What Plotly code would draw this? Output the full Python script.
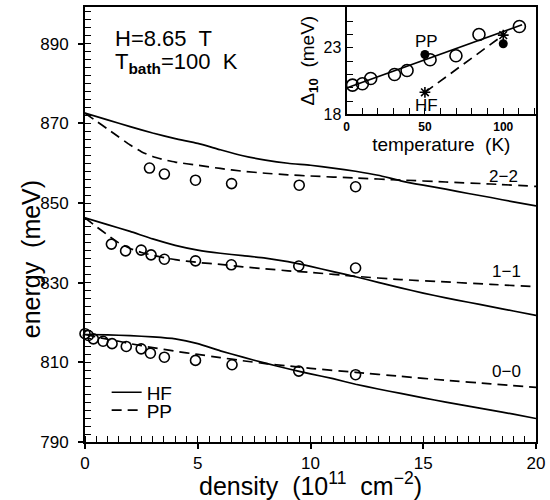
import plotly.graph_objects as go

# ---------------- main panel data ----------------
d_hf = [0, 1, 2, 3, 4, 5, 6, 7, 8, 9, 10, 11, 12, 13, 14, 15, 16, 17, 18, 19, 20]
hf_22 = [872.6, 870.9, 869.2, 867.6, 866.2, 865.0, 863.4, 861.9, 860.8, 860.0, 859.5,
         858.8, 858.0, 857.0, 855.6, 854.5, 853.5, 852.4, 851.4, 850.3, 849.3]
hf_11 = [846.3, 844.6, 842.9, 841.0, 839.4, 838.2, 837.4, 836.8, 836.2, 835.3, 834.1,
         832.8, 831.5, 830.1, 828.7, 827.4, 826.2, 825.1, 824.0, 822.9, 821.8]
hf_00 = [817.0, 816.9, 816.7, 816.4, 815.9, 814.7, 812.9, 811.3, 809.8, 808.4, 807.1,
         805.9, 804.5, 803.3, 802.2, 801.1, 800.0, 799.0, 798.0, 797.0, 795.9]

d_pp22 = [0, 0.5, 1, 1.5, 2, 2.5, 3, 3.5, 4, 5, 6, 7, 8, 9, 10, 12, 14, 16, 18, 20]
pp_22 = [872.6, 870.6, 868.6, 866.6, 864.6, 862.9, 861.7, 860.9, 860.3, 859.5, 858.7,
         858.0, 857.5, 857.1, 856.8, 856.3, 855.8, 855.3, 854.8, 854.2]
d_pp11 = [0, 0.5, 1, 1.5, 2, 2.5, 3, 4, 5, 6, 7, 8, 9, 10, 12, 14, 16, 18, 20]
pp_11 = [846.3, 844.1, 842.0, 840.0, 838.6, 837.6, 836.9, 835.8, 835.1, 834.6, 834.0,
         833.5, 833.0, 832.6, 831.6, 830.8, 830.2, 829.6, 829.0]
d_pp00 = [0, 0.5, 1, 1.5, 2, 3, 4, 5, 6, 7, 8, 9, 10, 12, 14, 16, 18, 20]
pp_00 = [817.0, 816.4, 815.8, 815.3, 814.7, 813.7, 812.8, 812.0, 811.2, 810.4, 809.7,
         809.1, 808.5, 807.5, 806.5, 805.5, 804.6, 803.7]

d_exp22 = [2.86, 3.52, 4.9, 6.5, 9.5, 12.0]
e_exp22 = [858.8, 857.3, 855.75, 854.9, 854.5, 854.1]
d_exp11 = [1.17, 1.8, 2.49, 2.93, 3.52, 4.9, 6.49, 9.48, 12.0]
e_exp11 = [839.7, 838.0, 838.2, 837.0, 835.9, 835.5, 834.5, 834.2, 833.7]
d_exp00 = [0.0, 0.15, 0.37, 0.8, 1.2, 1.83, 2.49, 2.9, 3.52, 4.9, 6.52, 9.48, 12.0]
e_exp00 = [817.2, 816.75, 815.9, 815.3, 814.7, 814.0, 813.4, 812.3, 811.3, 810.5,
           809.4, 807.8, 806.9]

level_labels = ["2\u22122", "1\u22121", "0\u22120"]
level_label_x = [18.55, 18.7, 18.7]
level_label_y = [856.6, 832.8, 807.6]

# ---------------- inset data ----------------
t_exp = [3.8, 10.1, 15.4, 30.6, 38.6, 53.3, 69.8, 84.5, 110.3]
delta_exp = [20.2, 20.3, 20.7, 21.0, 21.3, 22.1, 22.4, 24.0, 24.6]
t_fit = [0, 112]
delta_fit = [19.98, 24.73]
t_hf = [50, 100]
delta_hf = [19.66, 23.95]
t_pp = [50, 100]
delta_pp = [22.5, 23.3]

FONT = "Liberation Sans"
LW = 1.7
DASH = "10px,6px"

fig = go.Figure()

# theory curves
for i, (xs, ys) in enumerate([(d_hf, hf_22), (d_hf, hf_11), (d_hf, hf_00)]):
    fig.add_trace(go.Scatter(x=xs, y=ys, mode="lines", line=dict(color="black", width=LW, shape="spline", smoothing=0.5),
                             name="HF", legend="legend", showlegend=(i == 0)))
for i, (xs, ys) in enumerate([(d_pp22, pp_22), (d_pp11, pp_11), (d_pp00, pp_00)]):
    fig.add_trace(go.Scatter(x=xs, y=ys, mode="lines", line=dict(color="black", width=LW, dash=DASH, shape="spline", smoothing=0.5),
                             name="PP", legend="legend2", showlegend=(i == 0)))
# experimental points
for xs, ys in [(d_exp22, e_exp22), (d_exp11, e_exp11), (d_exp00, e_exp00)]:
    fig.add_trace(go.Scatter(x=xs, y=ys, mode="markers", cliponaxis=False, showlegend=False,
                             marker=dict(symbol="circle-open", size=10, color="black", line=dict(width=1.6))))

# inset
fig.add_trace(go.Scatter(x=t_fit, y=delta_fit, xaxis="x2", yaxis="y2", mode="lines", showlegend=False,
                         line=dict(color="black", width=LW)))
fig.add_trace(go.Scatter(x=t_hf, y=delta_hf, xaxis="x2", yaxis="y2", mode="lines+markers", showlegend=False,
                         line=dict(color="black", width=LW, dash=DASH),
                         marker=dict(symbol="asterisk-open", size=9, color="black", line=dict(width=1.6))))
fig.add_trace(go.Scatter(x=t_exp, y=delta_exp, xaxis="x2", yaxis="y2", mode="markers", showlegend=False,
                         marker=dict(symbol="circle-open", size=12, color="black", line=dict(width=1.6))))
fig.add_trace(go.Scatter(x=t_pp, y=delta_pp, xaxis="x2", yaxis="y2", mode="markers", showlegend=False,
                         marker=dict(symbol="circle", size=9, color="black")))

annotations = [
    dict(x=1.23, y=891.3, xref="x", yref="y", text="H=8.65  T", showarrow=False, xanchor="left",
         font=dict(size=22, family=FONT, color="black")),
    dict(x=1.23, y=885.3, xref="x", yref="y", text="T<sub><b>bath</b></sub>=100  K", showarrow=False,
         xanchor="left", font=dict(size=22, family=FONT, color="black")),
    dict(x=51.3, y=23.5, xref="x2", yref="y2", text="PP", showarrow=False,
         font=dict(size=17, family=FONT, color="black")),
    dict(x=51.3, y=18.67, xref="x2", yref="y2", text="HF", showarrow=False,
         font=dict(size=17, family=FONT, color="black")),
    dict(x=-0.121, y=836.0, xref="paper", yref="y", text="energy  (meV)", showarrow=False, textangle=-90,
         xanchor="center", yanchor="middle", font=dict(size=25, family=FONT, color="black")),
]
for lab, lx, ly in zip(level_labels, level_label_x, level_label_y):
    annotations.append(dict(x=lx, y=ly, xref="x", yref="y", text=lab, showarrow=False,
                            font=dict(size=17, family=FONT, color="black")))

axis_common = dict(showgrid=False, zeroline=False, showline=True, linecolor="black", linewidth=2,
                   mirror=True, tickcolor="black", color="black")

fig.update_layout(
    width=550, height=500,
    margin=dict(l=85, r=10, t=5, b=58),
    paper_bgcolor="white", plot_bgcolor="white",
    font=dict(family=FONT, color="black"),
    xaxis=dict(range=[0, 20], domain=[0, 1], anchor="y", tick0=0, dtick=5,
               ticks="outside", ticklen=5, tickwidth=1.5,
               minor=dict(ticks="inside", ticklen=6, dtick=0.5, tickwidth=1.3, tickcolor="black"),
               tickfont=dict(size=17, family=FONT),
               title=dict(text="density  (10<sup>11</sup>  cm<sup>\u22122</sup>)", font=dict(size=25, family=FONT), standoff=0),
               **axis_common),
    yaxis=dict(range=[790, 899.25], domain=[0, 1], anchor="x", tick0=790, dtick=20,
               ticks="outside", ticklen=5, tickwidth=1.5,
               minor=dict(ticks="inside", ticklen=6, dtick=2, tickwidth=1.3, tickcolor="black"),
               tickfont=dict(size=17, family=FONT), ticklabelstandoff=6,
               **axis_common),
    xaxis2=dict(range=[0, 120.9], domain=[0.580, 1], anchor="y2", tick0=0, dtick=50,
                ticks="inside", ticklen=6, tickwidth=1.3,
                minor=dict(ticks="inside", ticklen=6, dtick=10, tickwidth=1.3, tickcolor="black"),
                tickfont=dict(size=12, family=FONT, weight="bold"),
                title=dict(text="temperature  (K)", font=dict(size=19, family=FONT), standoff=2),
                **axis_common),
    yaxis2=dict(range=[18, 26.06], domain=[0.753, 1], anchor="x2", tick0=18, dtick=5,
                ticks="inside", ticklen=6, tickwidth=1.3,
                minor=dict(ticks="inside", ticklen=6, dtick=1, tickwidth=1.3, tickcolor="black"),
                tickfont=dict(size=16, family=FONT),
                title=dict(text="\u0394<sub><b>10</b></sub>  (meV)", font=dict(size=19, family=FONT), standoff=4),
                **axis_common),
    legend=dict(x=0.048, y=0.114, xanchor="left", yanchor="middle", bgcolor="rgba(0,0,0,0)",
                font=dict(size=19, family=FONT)),
    legend2=dict(x=0.048, y=0.073, xanchor="left", yanchor="middle", bgcolor="rgba(0,0,0,0)",
                 font=dict(size=19, family=FONT)),
    annotations=annotations,
)

fig.write_html("out.html", config={"displayModeBar": False},
               post_script="document.body.style.margin='0';")
